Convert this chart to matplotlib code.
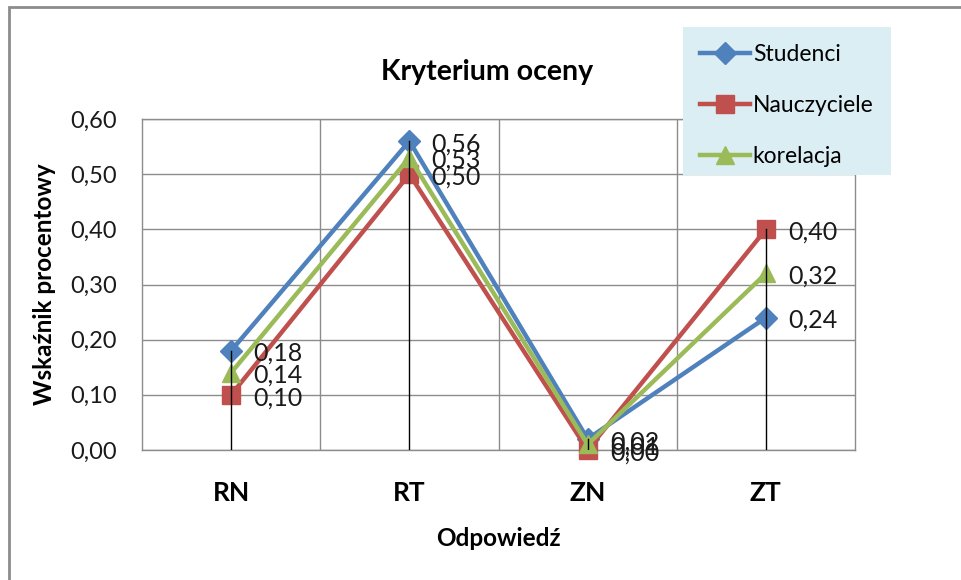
import matplotlib
matplotlib.use("Agg")
import matplotlib.pyplot as plt
from matplotlib.patches import Rectangle
from matplotlib.lines import Line2D

plt.rcParams['font.family'] = ['Lato', 'DejaVu Sans']

categories = ["RN", "RT", "ZN", "ZT"]
studenci = [0.18, 0.56, 0.02, 0.24]
nauczyciele = [0.10, 0.50, 0.00, 0.40]
korelacja = [0.14, 0.53, 0.01, 0.32]
series_names = ["Studenci", "Nauczyciele", "korelacja"]
yticks = [0.0, 0.1, 0.2, 0.3, 0.4, 0.5, 0.6]

colors = ["#4F81BD", "#C0504D", "#9BBB59"]
markers = ["D", "s", "^"]
msizes = [11, 13, 13]

W, H = 961, 580
fig = plt.figure(figsize=(W / 100, H / 100), dpi=100)

# outer chart border
fig.patches.append(Rectangle((9 / W, 1 - 7 / H - 600 / H), 1000 / W, 600 / H,
                             transform=fig.transFigure, fill=False,
                             edgecolor="#8C8C8C", linewidth=2.0, zorder=0))

left, right, top, bottom = 142, 855, 119, 450
ax = fig.add_axes([left / W, 1 - bottom / H, (right - left) / W, (bottom - top) / H])

x = list(range(len(categories)))
all_series = [studenci, nauczyciele, korelacja]
for vals, c, m, ms, name in zip(all_series, colors, markers, msizes, series_names):
    ax.plot(x, vals, color=c, marker=m, markersize=ms, linewidth=3.2,
            markeredgecolor=c, label=name, zorder=3, clip_on=False)
    for xi, v in zip(x, vals):
        ax.annotate(f"{v:.2f}".replace(".", ","), (xi, v), xytext=(16, -2),
                    textcoords="offset points", ha="left", va="center",
                    fontsize=18, color="#1a1a1a", zorder=5)

# drop lines
for xi in x:
    top_v = max(s[xi] for s in all_series)
    ax.plot([xi, xi], [0, top_v], color="black", linewidth=1.0, zorder=4)

ax.set_xlim(-0.5, 3.5)
ax.set_ylim(0, 0.6)
ax.set_yticks(yticks)
ax.set_yticklabels([f"{t:.2f}".replace(".", ",") for t in yticks], fontsize=17,
                   color="#1a1a1a")
ax.set_xticks(x)
ax.set_xticklabels(categories, fontsize=19, fontweight="bold")
ax.set_xticks([0.5, 1.5, 2.5], minor=True)
ax.tick_params(axis="both", which="both", length=0)
ax.tick_params(axis="x", pad=22)
ax.tick_params(axis="y", pad=18)
ax.grid(axis="y", which="major", color="#8C8C8C", linewidth=1.0)
ax.grid(axis="x", which="minor", color="#8C8C8C", linewidth=1.0)
ax.set_axisbelow(True)
for sp in ax.spines.values():
    sp.set_color("#8C8C8C")
    sp.set_linewidth(1.0)

ax.set_xlabel("Odpowiedź", fontsize=17.5, fontweight="bold", labelpad=16)
ax.set_ylabel("Wskaźnik procentowy", fontsize=17.5, fontweight="bold", labelpad=10)

fig.text(487 / W, 1 - 72 / H, "Kryterium oceny", ha="center", va="center",
         fontsize=20.5, fontweight="bold")

# legend
lx0, ly0, lx1, ly1 = 683, 27, 891, 175
fig.patches.append(Rectangle((lx0 / W, 1 - ly1 / H), (lx1 - lx0) / W, (ly1 - ly0) / H,
                             transform=fig.transFigure, facecolor="#DBEEF4",
                             edgecolor="none", zorder=2))
handles = [Line2D([], [], color=c, marker=m, markersize=ms, linewidth=3.2,
                  markeredgecolor=c) for c, m, ms in zip(colors, markers, msizes)]
leg = fig.legend(handles, series_names, loc="upper left",
                 bbox_to_anchor=(684 / W, 1 - 28 / H), frameon=False,
                 fontsize=16.5, handlelength=2.2, handletextpad=0.1,
                 labelspacing=1.3, borderpad=0.2)
leg.set_zorder(6)

fig.savefig("out.png", dpi=100)
